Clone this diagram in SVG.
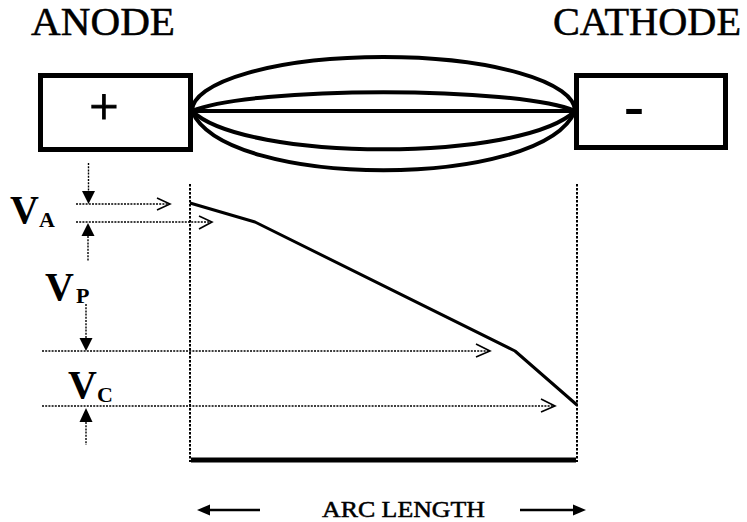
<svg xmlns="http://www.w3.org/2000/svg" width="747" height="522" viewBox="0 0 747 522">
<style>
.t{font-family:"Liberation Serif","Times New Roman",serif;fill:#000}
.h{stroke:#000;stroke-width:0.5}
.b{font-weight:bold}
.box{fill:#fff;stroke:#000;stroke-width:5}
.arc{fill:none;stroke:#000;stroke-width:4}
.dot{fill:none;stroke:#000;stroke-width:1.4;stroke-dasharray:2,1.2}
.vdot{fill:none;stroke:#000;stroke-width:2;stroke-dasharray:2.5,1.5}
.chev{fill:none;stroke:#000;stroke-width:1.6}
.tri{fill:#000}
</style>
<rect width="747" height="522" fill="#fff"/>
<g id="anode">
<text class="t h" x="31" y="35" font-size="39" textLength="144" lengthAdjust="spacingAndGlyphs">ANODE</text>
<rect class="box" x="40.5" y="75.5" width="150" height="74"/>
<text class="t" x="104" y="124" font-size="52" text-anchor="middle" stroke="#000" stroke-width="1">+</text>
</g>
<g id="cathode">
<text class="t h" x="553" y="35" font-size="39" textLength="188" lengthAdjust="spacingAndGlyphs">CATHODE</text>
<rect class="box" x="576.5" y="75.5" width="149" height="72"/>
<text class="t b" x="634" y="125" font-size="60" text-anchor="middle">-</text>
</g>
<g id="arc-column">
<path class="arc" d="M192,111 A191.5,54 0 0 1 575,111"/>
<path class="arc" d="M192,111 C250,86 517,86 575,111"/>
<path class="arc" d="M192,111 L575,111"/>
<path class="arc" d="M192,111 C245,162 522,162 575,111"/>
<path class="arc" d="M192,111 C225,190 542,190 575,111"/>
</g>
<g id="labels">
<text class="t b" x="10" y="223" font-size="40">V</text>
<text class="t b" x="39" y="227" font-size="22">A</text>
<text class="t b" x="45" y="300" font-size="40">V</text>
<text class="t b" x="76" y="303" font-size="22">P</text>
<text class="t b" x="68" y="398" font-size="40">V</text>
<text class="t b" x="97" y="402" font-size="22">C</text>
<text class="t h" x="322" y="517" font-size="22.5" textLength="163" lengthAdjust="spacingAndGlyphs">ARC LENGTH</text>
</g>
<g id="connectors">
<line class="vdot" x1="190" y1="184" x2="190" y2="462"/>
<line class="vdot" x1="577" y1="184" x2="577" y2="462"/>
<polyline fill="none" stroke="#000" stroke-width="3" stroke-linejoin="round" points="190,203 255,222 515,351 577,405"/>
<line x1="191" y1="460" x2="576" y2="460" stroke="#000" stroke-width="5"/>
<line class="dot" x1="76" y1="204" x2="169" y2="204"/>
<polyline class="chev" points="157,198 170,204 157,210"/>
<line class="dot" x1="76" y1="222" x2="211" y2="222"/>
<polyline class="chev" points="199,216 212,222 199,229"/>
<line class="dot" x1="42" y1="351" x2="489" y2="351"/>
<polyline class="chev" points="476,344 490,351 476,357"/>
<line class="dot" x1="42" y1="406" x2="554" y2="406"/>
<polyline class="chev" points="541,399 555,406 541,412"/>
<line class="dot" x1="88.5" y1="163" x2="88.5" y2="192"/>
<polygon class="tri" points="82,191 95,191 88.5,204"/>
<polygon class="tri" points="88,223 81.5,236 94.5,236"/>
<line class="dot" x1="88" y1="236" x2="88" y2="261"/>
<line class="dot" x1="86" y1="304" x2="86" y2="338"/>
<polygon class="tri" points="79.5,338 92.5,338 86,351"/>
<polygon class="tri" points="86,408 79.5,422 92.5,422"/>
<line class="dot" x1="86" y1="422" x2="86" y2="445"/>
<line x1="207" y1="510" x2="260" y2="510" stroke="#000" stroke-width="2.5"/>
<polygon class="tri" points="197,510 210,504.5 210,515.5"/>
<line x1="520" y1="510" x2="575" y2="510" stroke="#000" stroke-width="2.5"/>
<polygon class="tri" points="586,510 573,504.5 573,515.5"/>
</g>
</svg>
